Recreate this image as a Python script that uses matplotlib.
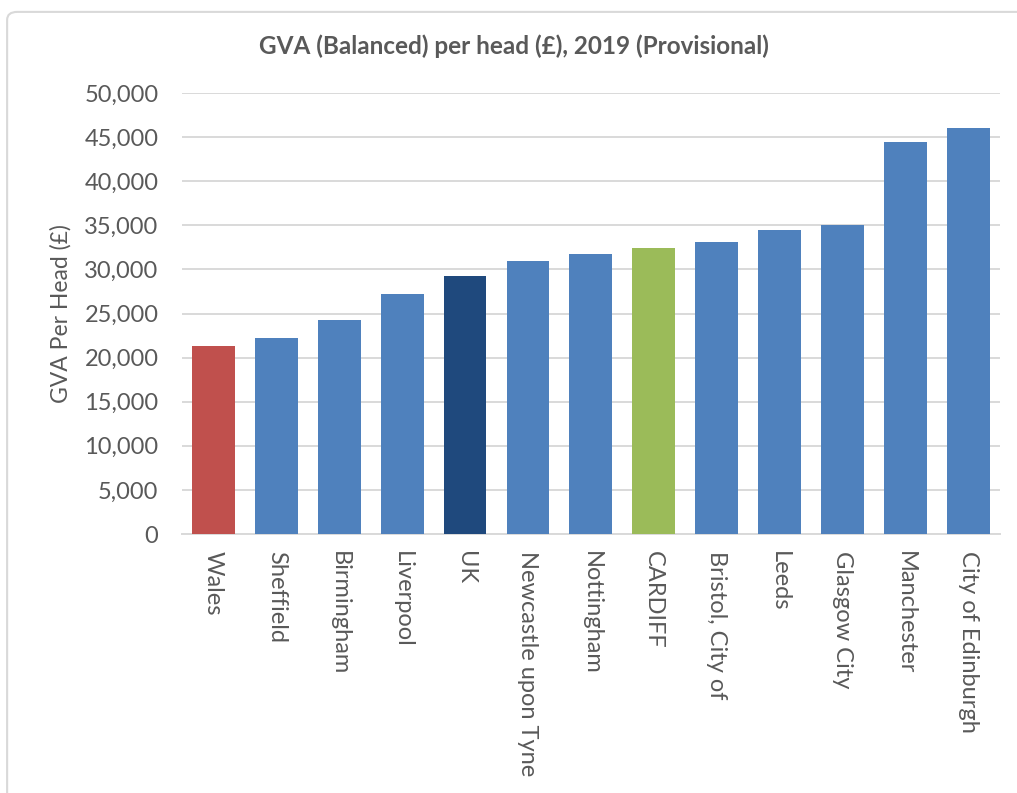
import matplotlib.pyplot as plt
from matplotlib.patches import FancyBboxPatch
from matplotlib.ticker import FuncFormatter

plt.rcParams['font.family'] = ['Lato', 'DejaVu Sans']

# GVA (balanced) per head, 2019 provisional
areas = ['Wales', 'Sheffield', 'Birmingham', 'Liverpool', 'UK',
         'Newcastle upon Tyne', 'Nottingham', 'CARDIFF', 'Bristol, City of',
         'Leeds', 'Glasgow City', 'Manchester', 'City of Edinburgh']
gva = [21260, 22200, 24300, 27160, 29300, 30980, 31700, 32380, 33060,
       34500, 34990, 44400, 46000]

blue = '#4F81BD'
special = {'Wales': '#C0504D', 'UK': '#1F497D', 'CARDIFF': '#9BBB59'}
colors = [special.get(a, blue) for a in areas]

fig = plt.figure(figsize=(10.17, 7.93), dpi=100)

# light chart frame like the Excel chart box
frame = FancyBboxPatch((0.007, -0.2), 1.1, 1.185, boxstyle='round,pad=0,rounding_size=0.01',
                       transform=fig.transFigure, facecolor='white',
                       edgecolor='#d9d9d9', linewidth=1.5, zorder=-10)
fig.patches.append(frame)

ax = fig.add_axes([0.179, 0.3266, 0.804, 0.5561])
ax.set_facecolor('none')
ax.set_zorder(5)

ax.bar(range(len(areas)), gva, width=0.68, color=colors, zorder=3)

ax.set_ylim(0, 50000)
ax.set_xlim(-0.5, len(areas) - 0.5)
ax.set_yticks(range(0, 50001, 5000))
ax.yaxis.set_major_formatter(FuncFormatter(lambda v, p: f'{int(v):,}'))
ax.grid(axis='y', color='#d9d9d9', linewidth=1.4, zorder=0)

ax.set_xticks(range(len(areas)))
ax.set_xticklabels(areas, rotation=270, fontsize=17, color='#595959')
ax.tick_params(axis='y', labelsize=17, labelcolor='#595959', length=0, pad=17)
ax.tick_params(axis='x', length=0, pad=12)

for s in ['top', 'right', 'left']:
    ax.spines[s].set_visible(False)
ax.spines['bottom'].set_color('#d9d9d9')
ax.spines['bottom'].set_linewidth(1.4)

ax.set_ylabel('GVA Per Head (£)', fontsize=16.5, color='#595959', labelpad=9)

fig.text(0.505, 0.942, 'GVA (Balanced) per head (£), 2019 (Provisional)',
         ha='center', va='center', fontsize=17.5, fontweight='bold', color='#595959',
         zorder=6)

fig.savefig('out.png', dpi=100)
